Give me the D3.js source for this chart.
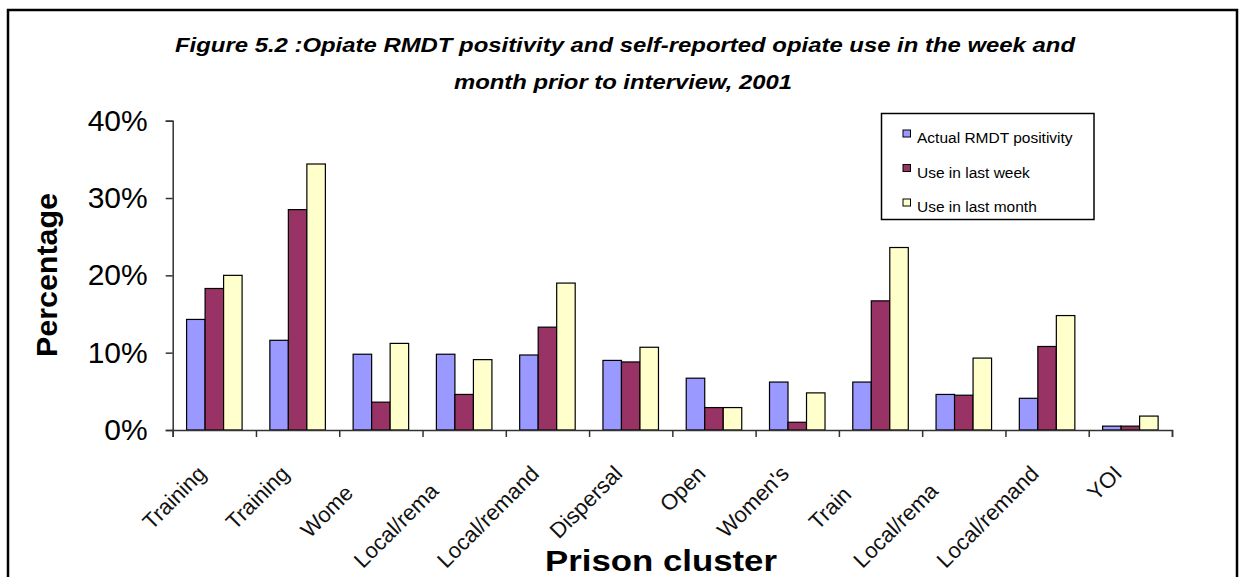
<!DOCTYPE html>
<html>
<head>
<meta charset="UTF-8">
<title>Figure 5.2</title>
<style>
  body { margin: 0; background: #fff; }
  svg { display: block; font-family: "Liberation Sans", Arial, sans-serif; }
</style>
</head>
<body>
<svg id="chart"></svg>
<script src="https://d3js.org/d3.v7.min.js"></script>
<script>
// categories (full names) and the part of each that shows on the chart
const clusters = ["Training", "Training", "Women's", "Local/remand", "Local/remand", "Dispersal",
                  "Open", "Women's", "Training", "Local/remand", "Local/remand", "YOI"];
const shownLabels = ["Training", "Training", "Wome", "Local/rema", "Local/remand", "Dispersal",
                     "Open", "Women's", "Train", "Local/rema", "Local/remand", "YOI"];

const seriesNames = ["Actual RMDT positivity", "Use in last week", "Use in last month"];
const seriesColors = ["#9999FF", "#993366", "#FFFFCC"];

// values in percent
const actualRmdt = [14.3, 11.6, 9.8, 9.8, 9.7, 9.0, 6.7, 6.2, 6.2, 4.6, 4.1, 0.5];
const lastWeek   = [18.3, 28.5, 3.6, 4.6, 13.3, 8.8, 2.9, 1.0, 16.7, 4.5, 10.8, 0.5];
const lastMonth  = [20.0, 34.4, 11.2, 9.1, 19.0, 10.7, 2.9, 4.8, 23.6, 9.3, 14.8, 1.8];

const yTicks = [0, 10, 20, 30, 40];

const width = 1243, height = 577;
const svg = d3.select("#chart").attr("width", width).attr("height", height);

// chart area border (bottom runs off the page)
svg.append("rect")
  .attr("x", 8).attr("y", 10)
  .attr("width", 1229).attr("height", 620)
  .attr("fill", "none").attr("stroke", "#000").attr("stroke-width", 2.5);

// title (the original text is drawn a little wide)
const title = svg.append("g")
  .attr("text-anchor", "middle")
  .attr("font-weight", "bold").attr("font-style", "italic")
  .attr("font-size", 20);
title.append("text").attr("x", 625).attr("y", 52)
  .attr("textLength", 900).attr("lengthAdjust", "spacingAndGlyphs")
  .text("Figure 5.2 :Opiate RMDT positivity and self-reported opiate use in the week and");
title.append("text").attr("x", 623).attr("y", 89)
  .attr("textLength", 338).attr("lengthAdjust", "spacingAndGlyphs")
  .text("month prior to interview, 2001");

const plotLeft = 172.7, plotRight = 1172, plotTop = 120.7, plotBottom = 430;

const x = d3.scaleBand().domain(d3.range(clusters.length)).range([plotLeft, plotRight]);
const bw = x.bandwidth();
const x1 = d3.scaleBand().domain(d3.range(seriesNames.length))
  .range([bw * 0.75 / 4.5, bw * 3.75 / 4.5]);
const xb = d3.scaleLinear().domain([0, clusters.length]).range([plotLeft, plotRight]);
const y = d3.scaleLinear().domain([0, 40]).range([plotBottom, plotTop]);

const data = clusters.map((c, i) => [actualRmdt[i], lastWeek[i], lastMonth[i]]);

// bars
const groups = svg.append("g").selectAll("g").data(data).join("g")
  .attr("transform", (d, i) => `translate(${x(i)},0)`);
groups.selectAll("rect").data(d => d).join("rect")
  .attr("x", (d, j) => x1(j))
  .attr("width", x1.bandwidth())
  .attr("y", d => y(d))
  .attr("height", d => plotBottom - y(d))
  .attr("fill", (d, j) => seriesColors[j])
  .attr("stroke", "#000").attr("stroke-width", 1.2);

// y axis
const yAxis = svg.append("g").attr("transform", `translate(${plotLeft},0)`)
  .call(d3.axisLeft(y).tickValues(yTicks).tickFormat(d => d + "%").tickSize(7).tickPadding(18));
yAxis.selectAll("text").attr("font-size", 30).attr("fill", "#000").attr("font-family", "Liberation Sans, Arial, sans-serif");
yAxis.selectAll("line, path").attr("stroke", "#333").attr("stroke-width", 1.5);

// x axis, ticks on the category boundaries
const xAxis = svg.append("g").attr("transform", `translate(0,${plotBottom})`)
  .call(d3.axisBottom(xb).ticks(clusters.length).tickFormat("").tickSize(7).tickSizeOuter(7));
xAxis.selectAll("line, path").attr("stroke", "#333").attr("stroke-width", 1.5);

// rotated category labels, cut short where the chart cut them
const labelG = svg.append("g").attr("font-size", 22);
clusters.forEach((full, i) => {
  const cx = x(i) + bw / 2 - 7;
  const g = labelG.append("g").attr("transform", `translate(${cx},475) rotate(-45)`);
  const probe = g.append("text").text(full);
  const fullW = probe.node().getComputedTextLength();
  probe.text(shownLabels[i]);
  const shownW = probe.node().getComputedTextLength();
  probe.attr("text-anchor", "end").attr("x", -(fullW - shownW)).attr("fill", "#111");
});

// axis titles
svg.append("text")
  .attr("transform", "translate(57,275) rotate(-90)")
  .attr("text-anchor", "middle")
  .attr("font-weight", "bold").attr("font-size", 29)
  .attr("textLength", 164).attr("lengthAdjust", "spacingAndGlyphs")
  .text("Percentage");

svg.append("text")
  .attr("x", 661).attr("y", 571)
  .attr("text-anchor", "middle")
  .attr("font-weight", "bold").attr("font-size", 29)
  .attr("textLength", 232).attr("lengthAdjust", "spacingAndGlyphs")
  .text("Prison cluster");

// legend
const legend = svg.append("g");
legend.append("rect")
  .attr("x", 881.5).attr("y", 113.5).attr("width", 212.5).attr("height", 106)
  .attr("fill", "#fff").attr("stroke", "#000").attr("stroke-width", 1.5);
seriesNames.forEach((name, j) => {
  const by = 143 + j * 34.5;
  legend.append("rect")
    .attr("x", 903).attr("y", by - 13).attr("width", 7.5).attr("height", 7)
    .attr("fill", seriesColors[j]).attr("stroke", "#000").attr("stroke-width", 1);
  legend.append("text")
    .attr("x", 917).attr("y", by)
    .attr("font-size", 15.5)
    .text(name);
});
</script>
</body>
</html>
